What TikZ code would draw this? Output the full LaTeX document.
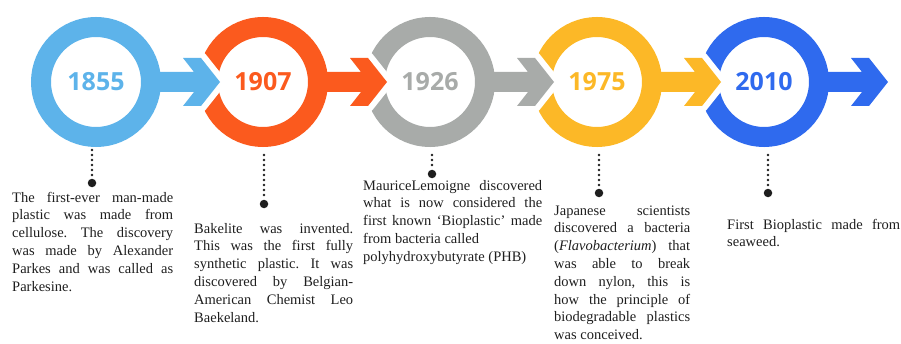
\documentclass[tikz,border=0pt]{standalone}
\usepackage{fontspec}
\setmainfont{Liberation Serif}
\newfontfamily\yearfont{Open Sans}
\usepackage{tikz}
\definecolor{skyblue}{HTML}{5DB3EA}
\definecolor{brickorange}{HTML}{FB5A1E}
\definecolor{stonegray}{HTML}{A8ABA9}
\definecolor{sunyellow}{HTML}{FCB827}
\definecolor{royalblue}{HTML}{2F6AEE}
\definecolor{inkgray}{HTML}{1E1E1E}
\newcommand{\ringwidth}{20pt}
\newcommand{\gapwidth}{12pt}
\newcommand{\storysetup}{\frenchspacing\tolerance=9999 \hyphenpenalty=10000 }

\tikzset{
  yearring/.style={circle, draw=#1, text=#1, line width=\ringwidth, minimum size=110pt, inner sep=0pt,
    font=\yearfont\bfseries\fontsize{25}{25}\selectfont},
  arrowgap/.style={draw=white, line width=\gapwidth, line join=round},
  bigdot/.style={circle, fill=inkgray, minimum size=8.5pt, inner sep=0pt},
  dotline/.style={draw=inkgray, line width=2.8pt, line cap=round, dash pattern=on 0pt off 5pt},
  story/.style={anchor=base west, inner sep=0pt, text width=#1, align=justify, text=inkgray,
    font=\fontsize{14.5}{17.8}\selectfont}
}

\begin{document}
\begin{tikzpicture}[x=1pt,y=1pt]
    \useasboundingbox (0,0) rectangle (901,343);
    %Rings:
    \node[yearring=skyblue] (y1855) at (96,261) {1855};
    \node[yearring=brickorange] (y1907) at (263,261) {1907};
    \node[yearring=stonegray] (y1926) at (430,261) {1926};
    \node[yearring=sunyellow] (y1975) at (597,261) {1975};
    \node[yearring=royalblue] (y2010) at (764,261) {2010};

    %Arrow 1855:
    \begin{scope}[shift={(y1855.center)}]
        \draw[arrowgap] (87,24) -- (105,24) -- (124,0) -- (105,-24) -- (87,-24) -- (98,-10) -- (98,10) -- cycle;
        \fill[skyblue] (55,10) -- (98,10) -- (87,24) -- (105,24) -- (124,0) -- (105,-24) -- (87,-24) -- (98,-10) -- (55,-10) -- cycle;
    \end{scope}
    %Arrow 1907:
    \begin{scope}[shift={(y1907.center)}]
        \draw[arrowgap] (87,24) -- (105,24) -- (124,0) -- (105,-24) -- (87,-24) -- (98,-10) -- (98,10) -- cycle;
        \fill[brickorange] (55,10) -- (98,10) -- (87,24) -- (105,24) -- (124,0) -- (105,-24) -- (87,-24) -- (98,-10) -- (55,-10) -- cycle;
    \end{scope}
    %Arrow 1926:
    \begin{scope}[shift={(y1926.center)}]
        \draw[arrowgap] (87,24) -- (105,24) -- (124,0) -- (105,-24) -- (87,-24) -- (98,-10) -- (98,10) -- cycle;
        \fill[stonegray] (55,10) -- (98,10) -- (87,24) -- (105,24) -- (124,0) -- (105,-24) -- (87,-24) -- (98,-10) -- (55,-10) -- cycle;
    \end{scope}
    %Arrow 1975:
    \begin{scope}[shift={(y1975.center)}]
        \draw[arrowgap] (87,24) -- (105,24) -- (124,0) -- (105,-24) -- (87,-24) -- (98,-10) -- (98,10) -- cycle;
        \fill[sunyellow] (55,10) -- (98,10) -- (87,24) -- (105,24) -- (124,0) -- (105,-24) -- (87,-24) -- (98,-10) -- (55,-10) -- cycle;
    \end{scope}
    %Arrow 2010:
    \begin{scope}[shift={(y2010.center)}]
        \fill[royalblue] (55,10) -- (98,10) -- (87,24) -- (105,24) -- (124,0) -- (105,-24) -- (87,-24) -- (98,-10) -- (55,-10) -- cycle;
    \end{scope}

    %Dotted pointers:
    \coordinate (t1855) at (92,193);
    \node[bigdot] (d1855) at (92,160) {};
    \draw[dotline] (t1855) -- (d1855);
    \coordinate (t1907) at (264,188);
    \node[bigdot] (d1907) at (264,139) {};
    \draw[dotline] (t1907) -- (d1907);
    \coordinate (t1926) at (432,188);
    \node[bigdot] (d1926) at (432,169) {};
    \draw[dotline] (t1926) -- (d1926);
    \coordinate (t1975) at (599,188);
    \node[bigdot] (d1975) at (599,150) {};
    \draw[dotline] (t1975) -- (d1975);
    \coordinate (t2010) at (768,188);
    \node[bigdot] (d2010) at (768,150) {};
    \draw[dotline] (t2010) -- (d2010);

    %Texts:
    \node[story=161pt] (s1855) at (12,141) {\storysetup The first-ever man-made\linebreak plastic was made from\linebreak cellulose. The discovery\linebreak was made by Alexander\linebreak Parkes and was called as\linebreak Parkesine.};
    \node[story=159pt] (s1907) at (194,110) {\storysetup Bakelite was invented.\linebreak This was the first fully\linebreak synthetic plastic. It was\linebreak discovered by Belgian-\linebreak American Chemist Leo\linebreak Baekeland.};
    \node[story=179pt] (s1926) at (363,153) {\storysetup MauriceLemoigne discovered\linebreak what is now considered the\linebreak first known `Bioplastic' made\linebreak from bacteria called\newline polyhydroxybutyrate (PHB)};
    \node[story=136pt] (s1975) at (554,128) {\storysetup Japanese scientists\linebreak discovered a bacteria\linebreak (\textit{Flavobacterium}) that\linebreak was able to break\linebreak down nylon, this is\linebreak how the principle of\linebreak biodegradable plastics\linebreak was conceived.};
    \node[story=173pt] (s2010) at (727,114) {\storysetup First Bioplastic made from\linebreak seaweed.};
\end{tikzpicture}
\end{document}
